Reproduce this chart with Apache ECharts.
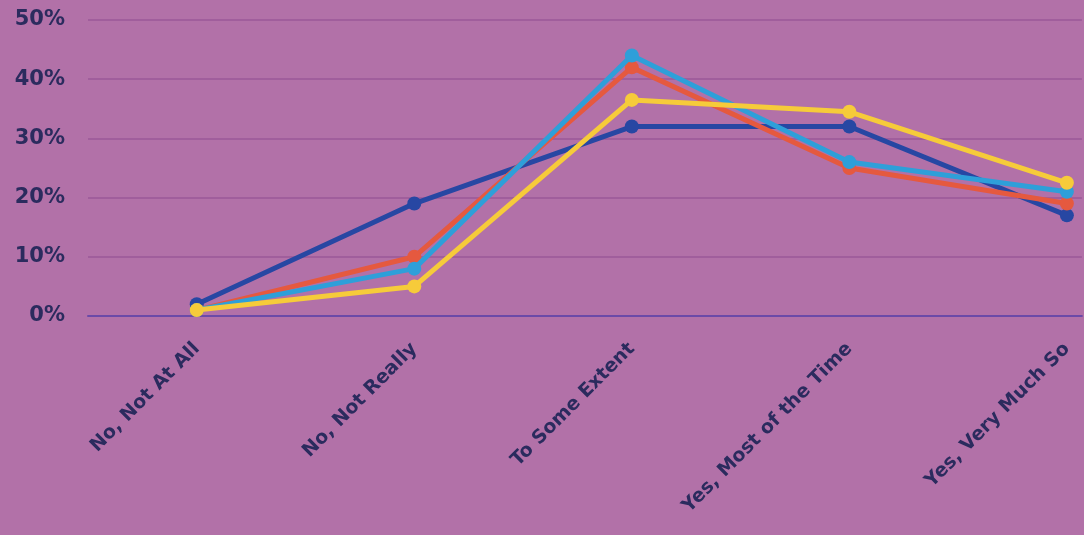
<!DOCTYPE html>
<html><head><meta charset="utf-8">
<script src="https://cdn.jsdelivr.net/npm/echarts@6/dist/echarts.min.js"></script>
<style>html,body{margin:0;padding:0;background:#b271a8;}#c{width:1084px;height:535px;}</style>
</head><body><div id="c"></div>
<script>
const categories = ["No, Not At All", "No, Not Really", "To Some Extent", "Yes, Most of the Time", "Yes, Very Much So"];
const yTicks = [0, 10, 20, 30, 40, 50];
const seriesDarkBlue = [2, 19, 32, 32, 17];
const seriesRed = [1, 10, 42, 25, 19];
const seriesLightBlue = [1, 8, 44, 26, 21];
const seriesYellow = [1, 5, 36.5, 34.5, 22.5];

const colors = ["#2747a3", "#e5593f", "#2e9fd9", "#f6cb3a"];
const names = ["A", "B", "C", "D"];
const dataSets = [seriesDarkBlue, seriesRed, seriesLightBlue, seriesYellow];

const chart = echarts.init(document.getElementById('c'));
chart.setOption({
  backgroundColor: '#b271a8',
  animation: false,
  grid: { left: 88, top: 20, right: 0, height: 296, containLabel: false },
  xAxis: {
    type: 'value', min: -0.5, max: 4.069, interval: 0.5,
    splitLine: { show: false },
    axisLine: { show: true, onZero: false, lineStyle: { color: '#6b4aa8', width: 2 } },
    axisTick: { show: false },
    axisLabel: {
      rotate: 45, margin: 30, color: '#2b2b5e', fontFamily: 'DejaVu Sans', fontWeight: 'bold', fontSize: 19,
      showMinLabel: true, showMaxLabel: true,
      formatter: v => (Math.abs(v - Math.round(v)) < 1e-6 && Math.round(v) >= 0 && Math.round(v) < categories.length) ? categories[Math.round(v)] : ''
    }
  },
  yAxis: {
    type: 'value', min: 0, max: 50, interval: 10,
    axisLine: { show: false }, axisTick: { show: false },
    splitLine: { lineStyle: { color: '#9a5898', width: 1.5 } },
    axisLabel: { formatter: v => yTicks.includes(v) ? v + '%' : '', color: '#2b2b5e', fontFamily: 'DejaVu Sans', fontWeight: 'bold', fontSize: 21, margin: 23 }
  },
  series: dataSets.map((d, i) => ({
    name: names[i], type: 'line', data: d.map((v, k) => [k, v]),
    symbol: 'circle', symbolSize: 14,
    lineStyle: { color: colors[i], width: 5 },
    itemStyle: { color: colors[i] },
    z: 2 + i
  }))
});
</script></body></html>
